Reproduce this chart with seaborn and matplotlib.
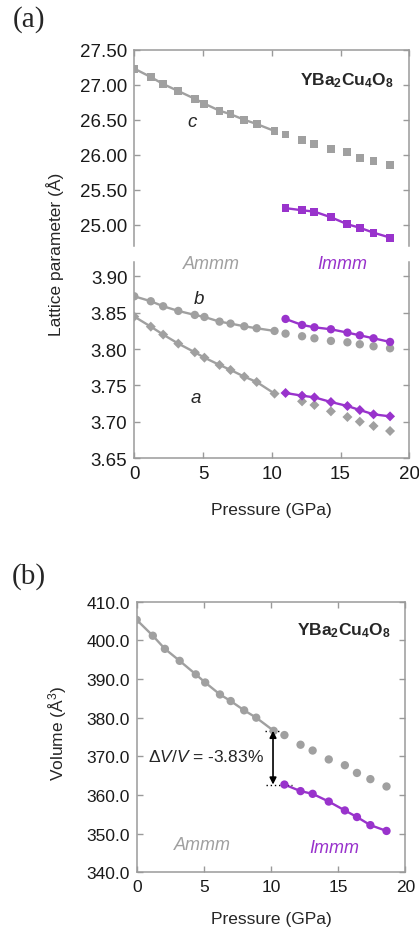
import numpy as np
import pandas as pd
import matplotlib
matplotlib.use("Agg")
import matplotlib.pyplot as plt
import seaborn as sns

# Pressure points (GPa)
p_low = [0.0, 1.2, 2.1, 3.2, 4.4, 5.1, 6.2, 7.0, 8.0, 8.9, 10.2]
p_high = [11.0, 12.2, 13.1, 14.3, 15.5, 16.4, 17.4, 18.6]

# Lattice parameter c (Å)
c_ammm_low = [27.23, 27.11, 27.01, 26.91, 26.80, 26.73, 26.63, 26.58, 26.50, 26.44, 26.34]
c_ammm_high = [26.29, 26.21, 26.16, 26.08, 26.04, 25.96, 25.91, 25.85]
c_immm = [25.24, 25.21, 25.19, 25.11, 25.01, 24.96, 24.89, 24.82]

# Lattice parameter b (Å)
b_ammm_low = [3.8725, 3.8657, 3.8588, 3.8524, 3.8469, 3.8441, 3.8377, 3.8350, 3.8313, 3.8286, 3.8249]
b_ammm_high = [3.8212, 3.8176, 3.8148, 3.8112, 3.8093, 3.8066, 3.8038, 3.8011]
b_immm = [3.8414, 3.8331, 3.8299, 3.8272, 3.8226, 3.8189, 3.8148, 3.8098]

# Lattice parameter a (Å)
a_ammm_low = [3.8446, 3.8308, 3.8199, 3.8075, 3.7956, 3.7882, 3.7782, 3.7713, 3.7621, 3.7548, 3.7388]
p_a_high = [12.2, 13.1, 14.3, 15.5, 16.4, 17.4, 18.6]
a_ammm_high = [3.7282, 3.7232, 3.7145, 3.7067, 3.7003, 3.6944, 3.6875]
a_immm = [3.7397, 3.7360, 3.7337, 3.7273, 3.7218, 3.7163, 3.7104, 3.7076]

# Unit-cell volume (Å^3)
v_ammm_low = [405.3, 401.2, 397.8, 394.7, 391.2, 389.1, 386.0, 384.3, 381.9, 380.0, 376.6]
v_ammm_high = [375.5, 373.0, 371.5, 369.2, 367.7, 365.7, 364.1, 362.2]
v_immm = [362.7, 361.0, 360.3, 358.3, 356.0, 354.3, 352.2, 350.7]

GRAY = "#a0a0a0"
PURPLE = "#9933cc"
SPINE = "#9a9a9a"

sns.set_style("ticks")
plt.rcParams["font.family"] = ["Liberation Sans", "DejaVu Sans"]
plt.rcParams["mathtext.fontset"] = "custom"
plt.rcParams["mathtext.rm"] = "Liberation Sans"
plt.rcParams["mathtext.it"] = "Liberation Sans:italic"
plt.rcParams["mathtext.bf"] = "Liberation Sans:bold"

FS = 12.5

fig = plt.figure(figsize=(4.19, 9.29), dpi=100)
W, H = 419, 929


def add_axes(x0, x1, y0, y1):
    return fig.add_axes([x0 / W, 1 - y1 / H, (x1 - x0) / W, (y1 - y0) / H])


ax_c = add_axes(134.3, 409.3, 50.7, 247.0)
ax_ab = add_axes(134.3, 409.3, 262.7, 459.3)
ax_v = add_axes(136.7, 405.3, 602.7, 873.3)


def series(ax, x, y, color, marker, size, line=True):
    df = pd.DataFrame({"x": x, "y": y})
    if line:
        sns.lineplot(data=df, x="x", y="y", color=color, lw=1.7, ax=ax, zorder=2)
    sns.scatterplot(data=df, x="x", y="y", color=color, marker=marker, s=size,
                    edgecolor="none", linewidth=0, ax=ax, zorder=3)


def style(ax, labelsize, top=True, bottom=True):
    for side in ["left", "right", "top", "bottom"]:
        ax.spines[side].set_color(SPINE)
        ax.spines[side].set_linewidth(1.1)
    ax.spines["top"].set_visible(top)
    ax.spines["bottom"].set_visible(bottom)
    ax.tick_params(direction="in", length=4, width=1.0, color=SPINE,
                   labelsize=labelsize, labelcolor="#1a1a1a", pad=5,
                   left=True, right=True, top=top, bottom=bottom)
    ax.set_xlim(0, 20)
    ax.set_xticks([0, 5, 10, 15, 20])
    ax.set_xlabel("")
    ax.set_ylabel("")


# c axis
series(ax_c, p_low, c_ammm_low, GRAY, "s", 32)
series(ax_c, p_high, c_ammm_high, GRAY, "s", 32, line=False)
series(ax_c, p_high, c_immm, PURPLE, "s", 32)
style(ax_c, 13.5, top=True, bottom=False)
c_ticks = [25.0, 25.5, 26.0, 26.5, 27.0, 27.5]
ax_c.set_ylim(24.70, 27.50)
ax_c.set_yticks(c_ticks)
ax_c.set_yticklabels([f"{v:.2f}" for v in c_ticks])
ax_c.tick_params(labelbottom=False)
ax_c.text(4.2, 26.47, "c", style="italic", fontsize=FS + 1, ha="center", va="center")
ax_c.text(18.9, 27.0, r"YBa$_\mathbf{2}$Cu$_\mathbf{4}$O$_\mathbf{8}$",
          fontweight="bold", fontsize=FS, ha="right", va="baseline")

# a and b axes
series(ax_ab, p_low, b_ammm_low, GRAY, "o", 36)
series(ax_ab, p_high, b_ammm_high, GRAY, "o", 36, line=False)
series(ax_ab, p_high, b_immm, PURPLE, "o", 36)
series(ax_ab, p_low, a_ammm_low, GRAY, "D", 26)
series(ax_ab, p_a_high, a_ammm_high, GRAY, "D", 26, line=False)
series(ax_ab, p_high, a_immm, PURPLE, "D", 26)
style(ax_ab, 13.5, top=False, bottom=True)
ab_ticks = [3.65, 3.70, 3.75, 3.80, 3.85, 3.90]
ax_ab.set_ylim(3.65, 3.92)
ax_ab.set_yticks(ab_ticks)
ax_ab.set_yticklabels([f"{v:.2f}" for v in ab_ticks])
ax_ab.text(4.7, 3.869, "b", style="italic", fontsize=FS + 1, ha="center", va="center")
ax_ab.text(4.5, 3.733, "a", style="italic", fontsize=FS + 1, ha="center", va="center")
ax_ab.text(5.6, 3.918, "Ammm", style="italic", color=GRAY, fontsize=FS + 0.5,
           ha="center", va="center")
ax_ab.text(15.1, 3.918, "Immm", style="italic", color=PURPLE, fontsize=FS + 0.5,
           ha="center", va="center")
ax_ab.set_xlabel("Pressure (GPa)", fontsize=FS, labelpad=14)

fig.text(55 / W, 1 - 254 / H, "Lattice parameter (Å)", rotation=90,
         fontsize=FS, ha="center", va="center")

# volume
series(ax_v, p_low, v_ammm_low, GRAY, "o", 36)
series(ax_v, p_high, v_ammm_high, GRAY, "o", 36, line=False)
series(ax_v, p_high, v_immm, PURPLE, "o", 36)
style(ax_v, 12.5, top=True, bottom=True)
v_ticks = [340, 350, 360, 370, 380, 390, 400, 410]
ax_v.set_ylim(340, 410)
ax_v.set_yticks(v_ticks)
ax_v.set_yticklabels([f"{v:.1f}" for v in v_ticks])
ax_v.set_xlabel("Pressure (GPa)", fontsize=FS, labelpad=12)
fig.text(58 / W, 1 - 733 / H, "Volume (Å$^3$)", rotation=90,
         fontsize=FS, ha="center", va="center")

v_top = v_ammm_low[-1]
v_bot = v_immm[0]
ax_v.annotate("", xy=(10.15, v_bot), xytext=(10.15, v_top),
              arrowprops=dict(arrowstyle="<|-|>", color="black", lw=1.2,
                              shrinkA=0, shrinkB=0, mutation_scale=10))
ax_v.plot([9.55, 10.7], [v_top, v_top], ls=(0, (1, 2)), color="black", lw=1.0)
ax_v.plot([9.6, 11.6], [v_bot, v_bot], ls=(0, (1, 2)), color="black", lw=1.0)
ax_v.text(0.85, 370.0, r"$\Delta V/V$ = -3.83%", fontsize=FS, ha="left", va="center")
ax_v.text(18.9, 401.5, r"YBa$_\mathbf{2}$Cu$_\mathbf{4}$O$_\mathbf{8}$",
          fontweight="bold", fontsize=FS, ha="right", va="baseline")
ax_v.text(4.9, 347.2, "Ammm", style="italic", color=GRAY, fontsize=FS + 0.5,
          ha="center", va="center")
ax_v.text(14.7, 346.4, "Immm", style="italic", color=PURPLE, fontsize=FS + 0.5,
          ha="center", va="center")

fig.text(29 / W, 1 - 20 / H, "(a)", family="Liberation Serif", fontsize=21,
         ha="center", va="center")
fig.text(29 / W, 1 - 577 / H, "(b)", family="Liberation Serif", fontsize=21,
         ha="center", va="center")

fig.savefig("out.png", dpi=100)
